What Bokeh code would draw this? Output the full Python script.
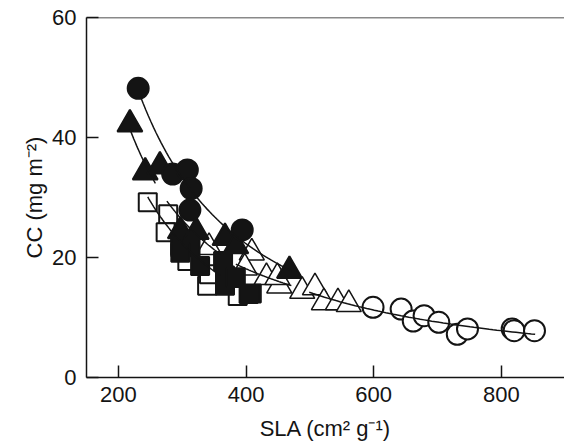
import numpy as np
from bokeh.plotting import figure
from bokeh.models import FixedTicker, Range1d, Span
from bokeh.embed import file_html
from bokeh.resources import INLINE

# ---- data ----
fc_x = [231, 285, 308, 314, 312, 394]            # filled circles
fc_y = [48.2, 33.9, 34.6, 31.5, 27.9, 24.6]

ft_x = [218, 242, 265, 297, 322, 367, 384, 468]  # filled triangles
ft_y = [42.2, 34.2, 35.2, 24.4, 24.3, 23.3, 21.9, 17.8]

os_x = [246, 278, 274, 297, 308, 339, 342, 387]  # open squares
os_y = [29.2, 27.2, 24.2, 21.7, 19.4, 15.3, 17.2, 13.6]

fs_x = [297, 313, 297, 328, 364, 367, 367, 384, 409, 404]  # filled squares
fs_y = [22.0, 21.7, 20.8, 18.6, 19.4, 17.0, 15.3, 16.7, 14.0, 13.9]

ot_x = [342, 409, 398, 432, 452, 449, 488, 508, 522, 544, 561]  # open triangles
ot_y = [21.7, 20.8, 18.3, 16.7, 15.3, 16.7, 14.4, 15.0, 12.5, 12.5, 12.2]

oc_x = [599, 643, 662, 679, 702, 731, 747, 817, 820, 852]  # open circles
oc_y = [11.7, 11.4, 9.4, 10.3, 9.2, 7.2, 8.1, 8.1, 7.8, 7.8]

# power-law fits y = a * x^b over [xmin, xmax]
fit_a = [92280, 107430, 116100, 58000, 8675, 37930]
fit_b = [-1.39, -1.46, -1.50, -1.35, -1.03, -1.27]
fit_xmin = [235, 218, 246, 276, 384, 499]
fit_xmax = [471, 258, 360, 360, 471, 853]

x_ticks = [200, 400, 600, 800]
y_ticks = [0, 20, 40, 60]

FONT = "Liberation Sans"
INK = "#141414"

p = figure(width=564, height=445, output_backend="svg", toolbar_location=None,
           x_range=Range1d(150, 899), y_range=Range1d(0, 60),
           min_border_left=86, min_border_right=0, min_border_top=17, min_border_bottom=68)
p.outline_line_color = None
p.grid.visible = False
p.background_fill_color = "white"
p.border_fill_color = "white"

for ax in (p.xaxis[0], p.yaxis[0]):
    ax.major_tick_in = 12
    ax.major_tick_out = 0
    ax.minor_tick_line_color = None
    ax.axis_line_width = 1.5
    ax.axis_line_color = INK
    ax.major_tick_line_width = 1.5
    ax.major_tick_line_color = INK
    ax.major_label_text_font = FONT
    ax.major_label_text_font_size = "22px"
    ax.major_label_text_color = INK
    ax.axis_label_text_font = FONT
    ax.axis_label_text_font_size = "22px"
    ax.axis_label_text_font_style = "normal"
    ax.axis_label_text_color = INK

p.xaxis.ticker = FixedTicker(ticks=x_ticks)
p.yaxis.ticker = FixedTicker(ticks=y_ticks)
p.xaxis.axis_label = "SLA (cm² g⁻¹)"
p.yaxis.axis_label = "CC (mg m⁻²)"
p.xaxis.major_label_standoff = 9
p.xaxis.axis_label_standoff = 11
p.yaxis.major_label_standoff = 10
p.yaxis.axis_label_standoff = 2

p.add_layout(Span(location=60, dimension="width", line_color=INK, line_width=1.5))

lw = 2
p.scatter(oc_x, oc_y, marker="circle", size=21, fill_color="white", line_color=INK, line_width=lw)
p.scatter(ot_x, ot_y, marker="triangle", size=25, fill_color="white", line_color=INK, line_width=1.5)
p.scatter(os_x, os_y, marker="square", size=18, fill_color="white", line_color=INK, line_width=lw)
p.scatter(fs_x, fs_y, marker="square", size=18, fill_color=INK, line_color=INK, line_width=lw)
p.scatter(ft_x, ft_y, marker="triangle", size=25, fill_color=INK, line_color=INK, line_width=lw)
p.scatter(fc_x, fc_y, marker="circle", size=21, fill_color=INK, line_color=INK, line_width=lw)

for a, b, x0, x1 in zip(fit_a, fit_b, fit_xmin, fit_xmax):
    xs = np.linspace(x0, x1, 60)
    p.line(xs, a * xs ** b, line_color=INK, line_width=1.5)

open("out.html", "w").write(file_html(p, INLINE))
